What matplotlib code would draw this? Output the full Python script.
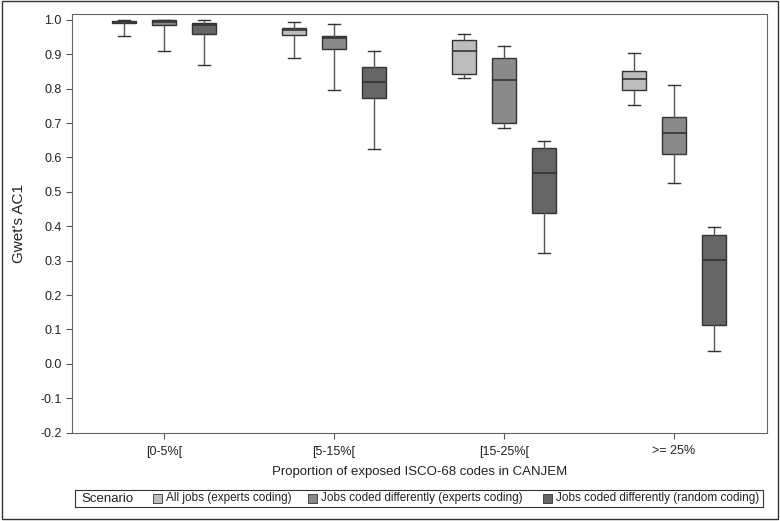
import matplotlib
matplotlib.use("Agg")
import matplotlib.pyplot as plt
from matplotlib.patches import Rectangle

plt.rcParams["font.family"] = ["Liberation Sans", "DejaVu Sans"]

categories = ["[0-5%[", "[5-15%[", "[15-25%[", ">= 25%"]
scenarios = ["All jobs (experts coding)",
             "Jobs coded differently (experts coding)",
             "Jobs coded differently (random coding)"]
colors = ["#bdbdbd", "#8a8a8a", "#666666"]

# box statistics per scenario, one value per category
whislo = [[0.952, 0.889, 0.832, 0.752],
          [0.909, 0.796, 0.686, 0.525],
          [0.869, 0.624, 0.321, 0.036]]
q1 = [[0.991, 0.955, 0.842, 0.796],
      [0.985, 0.914, 0.701, 0.610],
      [0.958, 0.772, 0.438, 0.114]]
med = [[0.995, 0.971, 0.908, 0.827],
       [0.993, 0.947, 0.826, 0.672],
       [0.985, 0.820, 0.556, 0.302]]
q3 = [[0.998, 0.976, 0.941, 0.851],
      [0.999, 0.954, 0.889, 0.718],
      [0.991, 0.863, 0.628, 0.375]]
whishi = [[1.000, 0.993, 0.960, 0.903],
          [1.000, 0.987, 0.924, 0.812],
          [0.999, 0.909, 0.647, 0.398]]

fig = plt.figure(figsize=(7.8, 5.21), dpi=100)
ax = fig.add_axes([72 / 780, 1 - 433 / 521, 695 / 780, 419 / 521])

offset = 0.235
for s in range(3):
    stats = []
    for c in range(len(categories)):
        stats.append(dict(whislo=whislo[s][c], q1=q1[s][c], med=med[s][c],
                          q3=q3[s][c], whishi=whishi[s][c], fliers=[]))
    pos = [c + (s - 1) * offset for c in range(len(categories))]
    ax.bxp(stats, positions=pos, widths=0.14, patch_artist=True,
           showfliers=False, manage_ticks=False,
           boxprops=dict(facecolor=colors[s], edgecolor="#333333", linewidth=1.0),
           medianprops=dict(color="#333333", linewidth=1.2),
           whiskerprops=dict(color="#555555", linewidth=1.0),
           capprops=dict(color="#333333", linewidth=1.0),
           capwidths=0.07)

ax.set_xlim(-0.54, 3.547)
ax.set_ylim(-0.201, 1.017)
ax.set_xticks(range(len(categories)))
ax.set_xticklabels(categories)
ax.set_yticks([i / 10 for i in range(-2, 11)])
ax.set_yticklabels([f"{i / 10:.1f}" for i in range(-2, 11)])
ax.tick_params(labelsize=9, length=4, color="#555555", labelcolor="#222222")
ax.tick_params(axis="x", pad=5)
for sp in ax.spines.values():
    sp.set_color("#666666")
ax.set_ylabel("Gwet's AC1", fontsize=11, color="#222222", labelpad=10)
ax.set_xlabel("Proportion of exposed ISCO-68 codes in CANJEM", fontsize=9.5,
              color="#222222", labelpad=6)

# legend strip
fig.patches.append(Rectangle((75 / 780, 1 - 507 / 521), 688 / 780, 17 / 521,
                             transform=fig.transFigure, fill=False,
                             edgecolor="#333333", linewidth=0.8))
ly = 1 - 498.5 / 521
fig.text(81 / 780, ly, "Scenario", fontsize=9.5, va="center", color="#222222")
legend_x = [153, 308, 543]
for s in range(3):
    fig.patches.append(Rectangle((legend_x[s] / 780, ly - 4 / 521), 9 / 780, 9 / 521,
                                 transform=fig.transFigure, facecolor=colors[s],
                                 edgecolor="#333333", linewidth=0.6))
    fig.text((legend_x[s] + 13) / 780, ly, scenarios[s], fontsize=8.5,
             va="center", color="#222222")

# outer frame
fig.patches.append(Rectangle((2 / 780, 2 / 521), 776 / 780, 518 / 521,
                             transform=fig.transFigure, fill=False,
                             edgecolor="#333333", linewidth=1.0))

fig.savefig("out.png", dpi=100, facecolor="white")
